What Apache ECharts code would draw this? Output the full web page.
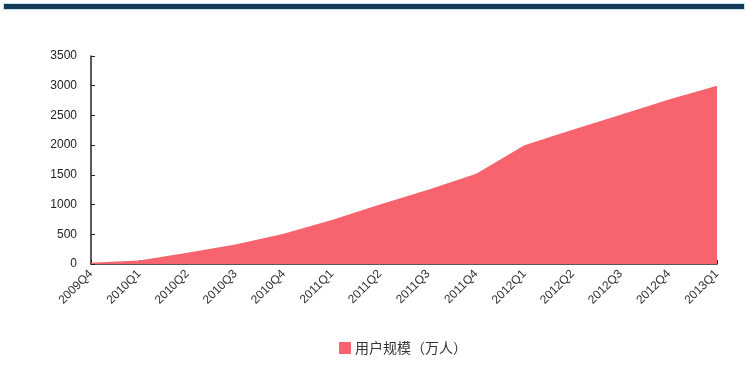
<!DOCTYPE html>
<html><head><meta charset="utf-8">
<script src="https://cdn.jsdelivr.net/npm/echarts@6/dist/echarts.min.js"></script>
<style>html,body{margin:0;padding:0;background:#fff}#c{width:747px;height:375px}</style>
</head><body><div id="c"></div>
<script>
var categories = ['2009Q4','2010Q1','2010Q2','2010Q3','2010Q4','2011Q1','2011Q2','2011Q3','2011Q4','2012Q1','2012Q2','2012Q3','2012Q4','2013Q1'];
var users = [20, 60, 190, 330, 510, 740, 1000, 1250, 1520, 2000, 2260, 2510, 2770, 3000];
var seriesName = '用户规模（万人）';
var yTicks = {min: 0, max: 3500, interval: 500};

var chart = echarts.init(document.getElementById('c'));
chart.setOption({
  animation: false,
  graphic: [
    {type: 'rect', shape: {x: 3, y: 3, width: 742, height: 7}, style: {fill: '#bfe6f0'}},
    {type: 'rect', shape: {x: 4, y: 4, width: 740, height: 5}, style: {fill: '#143a5a'}}
  ],
  grid: {left: 91, right: 30, top: 56, bottom: 111},
  legend: {
    top: 336, left: 334, itemWidth: 12, itemHeight: 12, itemGap: 4,
    icon: 'rect',
    textStyle: {fontFamily: 'Noto Sans CJK SC', fontSize: 14, color: '#333', padding: [0, 0, 0, -1]},
    data: [seriesName]
  },
  xAxis: {
    type: 'category', data: categories, boundaryGap: false,
    axisLine: {lineStyle: {color: '#222', width: 1.5}},
    axisTick: {inside: true, length: 4, lineStyle: {color: '#222'}, alignWithLabel: true},
    axisLabel: {rotate: 45, fontSize: 12, color: '#333', fontFamily: 'Liberation Sans', margin: 8, interval: 0}
  },
  yAxis: {
    type: 'value', min: yTicks.min, max: yTicks.max, interval: yTicks.interval,
    splitLine: {show: false},
    axisLine: {show: true, lineStyle: {color: '#222', width: 1.5}},
    axisTick: {show: true, inside: true, length: 4, lineStyle: {color: '#222'}},
    axisLabel: {fontSize: 12, color: '#222', fontFamily: 'Liberation Sans', margin: 14,
      formatter: function (v) { return String(v); }}
  },
  series: [{
    name: seriesName, type: 'line', data: users, symbol: 'none',
    lineStyle: {width: 0, color: '#f8646e'},
    itemStyle: {color: '#f8646e'},
    areaStyle: {color: '#f8646e', opacity: 1}
  }]
});
</script></body></html>
